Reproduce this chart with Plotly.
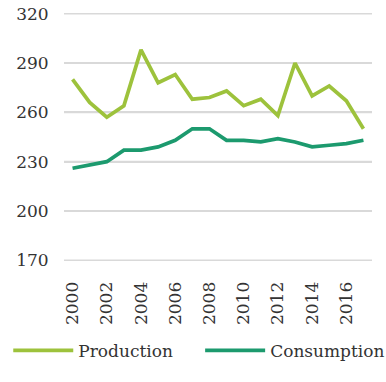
import plotly.graph_objects as go

years = [str(y) for y in range(2000, 2018)]
production = [280, 266, 257, 264, 298, 278, 283, 268, 269, 273, 264, 268, 258, 290, 270, 276, 267, 250]
consumption = [226, 228, 230, 237, 237, 239, 243, 250, 250, 243, 243, 242, 244, 242, 239, 240, 241, 243]
tick_years = [str(y) for y in range(2000, 2018, 2)]
y_ticks = [170, 200, 230, 260, 290, 320]

FONT = "DejaVu Serif"
TXT = "#333333"
GRID = "#d9d9d9"

fig = go.Figure()
fig.add_trace(go.Scatter(x=years, y=production, mode="lines", name="Production",
                         line=dict(color="#9dc23c", width=3.7), legend="legend"))
fig.add_trace(go.Scatter(x=years, y=consumption, mode="lines", name="Consumption",
                         line=dict(color="#1c9a6e", width=3.7), legend="legend2"))

# horizontal gridlines at the y tick values (drawn through the y axis scale)
for v in y_ticks:
    fig.add_shape(type="line", xref="paper", x0=0, x1=1, yref="y", y0=v, y1=v,
                  line=dict(color=GRID, width=1.8), layer="below")

leg_common = dict(orientation="h", yanchor="top", xanchor="left",
                  font=dict(family=FONT, size=17, color=TXT),
                  itemwidth=60, bgcolor="rgba(0,0,0,0)")

fig.update_layout(
    template="none",
    width=386, height=382,
    margin=dict(l=64, r=14, t=13, b=121, autoexpand=False),
    plot_bgcolor="white", paper_bgcolor="white",
    font=dict(family=FONT, size=17, color=TXT),
    showlegend=True,
    legend=dict(x=-0.181, y=-0.29, **leg_common),
    legend2=dict(x=0.442, y=-0.29, **leg_common),
    xaxis=dict(type="category", tickmode="array", tickvals=tick_years, ticktext=tick_years,
               tickangle=-90, showgrid=False, showline=False, zeroline=False,
               ticks="outside", ticklen=13, tickcolor="rgba(0,0,0,0)",
               range=[-0.5, 17.5]),
    yaxis=dict(range=[169.6, 320.4], tickmode="array", tickvals=y_ticks,
               showgrid=True, gridcolor=GRID, gridwidth=1.8,
               zeroline=False, showline=False,
               ticks="outside", ticklen=11, tickcolor="rgba(0,0,0,0)"),
)

fig.write_html("out.html")
